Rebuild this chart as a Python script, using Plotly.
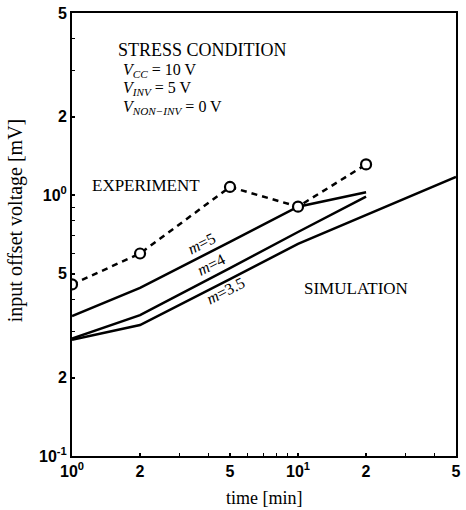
import plotly.graph_objects as go

# ---- data ----
exp_time = [1, 2, 5, 10, 20]
exp_voltage = [0.455, 0.598, 1.076, 0.904, 1.313]

sim_m5_time = [1, 2, 5, 10, 20]
sim_m5_voltage = [0.344, 0.441, 0.662, 0.904, 1.027]

sim_m4_time = [1, 2, 5, 10, 20]
sim_m4_voltage = [0.282, 0.347, 0.525, 0.723, 0.988]

sim_m35_time = [1, 2, 5, 10, 50]
sim_m35_voltage = [0.279, 0.318, 0.477, 0.651, 1.175]

x_tickvals = [1, 2, 5, 10, 20, 50]
x_ticktext = ["10<sup>0</sup>", "2", "5", "10<sup>1</sup>", "2", "5"]
x_minorvals = [3, 4, 6, 7, 8, 9, 30, 40]
y_tickvals = [0.1, 0.2, 0.5, 1, 2, 5]
y_ticktext = ["10<sup>-1</sup>", "2", "5", "10<sup>0</sup>", "2", "5"]
y_minorvals = [0.3, 0.4, 0.6, 0.7, 0.8, 0.9, 3, 4]

SERIF = "Liberation Serif, Times New Roman, serif"
SANS = "Liberation Sans, Arial, sans-serif"

fig = go.Figure()

sim_line = dict(color="black", width=2.5)
fig.add_trace(go.Scatter(x=sim_m5_time, y=sim_m5_voltage, mode="lines", line=sim_line, showlegend=False))
fig.add_trace(go.Scatter(x=sim_m4_time, y=sim_m4_voltage, mode="lines", line=sim_line, showlegend=False))
fig.add_trace(go.Scatter(x=sim_m35_time, y=sim_m35_voltage, mode="lines", line=sim_line, showlegend=False))
fig.add_trace(go.Scatter(
    x=exp_time, y=exp_voltage, mode="lines+markers",
    line=dict(color="black", width=2.5, dash="6px,5px"),
    marker=dict(symbol="circle", size=10, color="white", line=dict(color="black", width=2.2)),
    showlegend=False))

axis_common = dict(
    type="log", showgrid=False, zeroline=False,
    showline=True, linecolor="black", linewidth=2, mirror=True,
    ticks="inside", ticklen=3, tickwidth=1.5, tickcolor="black",
    tickfont=dict(family=SANS, size=16, color="black", weight="bold"),
)

fig.update_xaxes(**axis_common, range=[0, 1.69897], tickmode="array",
                 tickvals=x_tickvals, ticktext=x_ticktext,
                 minor=dict(tickmode="array", tickvals=x_minorvals, ticks="inside",
                            ticklen=3, tickwidth=1.2, tickcolor="black"))
fig.update_yaxes(**axis_common, range=[-1, 0.69897], tickmode="array",
                 tickvals=y_tickvals, ticktext=y_ticktext,
                 minor=dict(tickmode="array", tickvals=y_minorvals, ticks="inside",
                            ticklen=3, tickwidth=1.2, tickcolor="black"))

ann = []
def txt(text, x, y, size=17, xanchor="left", angle=0, xref="paper", yref="paper", **kw):
    ann.append(dict(text=text, x=x, y=y, xref=xref, yref=yref, xanchor=xanchor,
                    yanchor="middle", showarrow=False, textangle=angle,
                    font=dict(family=SERIF, size=size, color="black"), **kw))

txt("STRESS CONDITION", 0.1157, 0.9165, size=18)
txt("<i>V</i><sub><i>CC</i></sub> = 10 V", 0.1285, 0.871, size=16)
txt("<i>V</i><sub><i>INV</i></sub> = 5 V", 0.1285, 0.829, size=16)
txt("<i>V</i><sub><i>NON−INV</i></sub> = 0 V", 0.1285, 0.787, size=16)
txt("EXPERIMENT", 0.0463, 0.6095, size=17)
txt("SIMULATION", 0.599, 0.379, size=17)
txt("<i>m</i>=5", 0.3368, 0.4808, size=16, xanchor="center", angle=-27)
txt("<i>m</i>=4", 0.3625, 0.4312, size=16, xanchor="center", angle=-27)
txt("<i>m</i>=3.5", 0.401, 0.3747, size=16, xanchor="center", angle=-27)

# axis titles
txt("time [min]", 0.5, 0, size=18, xanchor="center", yshift=-42)
txt("input offset voltage [mV]", 0, 0.53, size=20, xanchor="center", angle=-90, xshift=-57)

fig.update_layout(
    width=466, height=510,
    margin=dict(l=72, r=5, t=13, b=54),
    paper_bgcolor="white", plot_bgcolor="white",
    annotations=ann,
)

fig.write_html("out.html")
